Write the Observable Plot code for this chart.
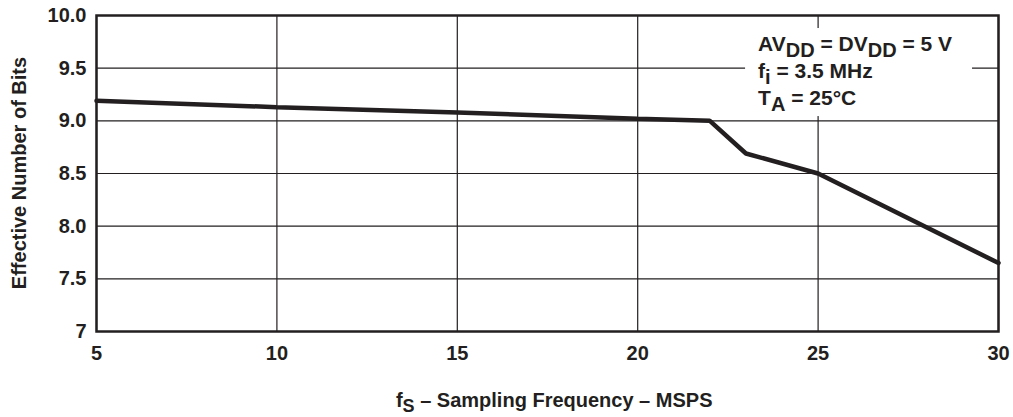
<!DOCTYPE html>
<html>
<head>
<meta charset="utf-8">
<script src="https://cdn.jsdelivr.net/npm/d3@7"></script>
<script src="https://cdn.jsdelivr.net/npm/@observablehq/plot@0.6"></script>
<style>
  html, body { margin: 0; padding: 0; background: #fff; }
  #chart svg { display: block; }
</style>
</head>
<body>
<div id="chart"></div>
<script>
// Data
const samplingFreq = [5, 10, 15, 20, 22, 23, 25, 30];      // fS, MSPS
const enob =         [9.19, 9.13, 9.08, 9.02, 9.0, 8.69, 8.5, 7.65]; // bits
const xTicks = [5, 10, 15, 20, 25, 30];
const yTicks = [7, 7.5, 8, 8.5, 9, 9.5, 10];
const yTickLabels = ["7", "7.5", "8.0", "8.5", "9.0", "9.5", "10.0"];
const yTitle = "Effective Number of Bits";
const annotation = [
  [["AV", false], ["DD", true], [" = DV", false], ["DD", true], [" = 5 V", false]],
  [["f", false], ["i", true], [" = 3.5 MHz", false]],
  [["T", false], ["A", true], [" = 25°C", false]]
];

const ink = "#231f20";
const font = "'Liberation Sans', Arial, Helvetica, sans-serif";
const data = samplingFreq.map((x, i) => ({x, y: enob[i]}));

const chart = Plot.plot({
  width: 1013,
  height: 417,
  marginLeft: 96,
  marginRight: 15,
  marginTop: 15,
  marginBottom: 86,
  style: {fontFamily: font, color: ink, background: "#fff"},
  x: {domain: [5, 30], ticks: xTicks},
  y: {domain: [7, 10], ticks: yTicks},
  marks: [
    Plot.gridX(xTicks, {stroke: ink, strokeOpacity: 1, strokeWidth: 1.2}),
    Plot.gridY(yTicks, {stroke: ink, strokeOpacity: 1, strokeWidth: 1.2}),
    Plot.line(data, {x: "x", y: "y", stroke: ink, strokeWidth: 4.5, strokeLinejoin: "miter"}),
    Plot.frame({stroke: ink, strokeWidth: 2.5}),
    Plot.axisX(xTicks, {tickSize: 0, tickPadding: 14, fontSize: 20, fontWeight: "bold", fill: ink, label: null}),
    Plot.axisY(yTicks, {tickSize: 0, tickPadding: 10, fontSize: 20, fontWeight: "bold", fill: ink, label: null,
      tickFormat: d => yTickLabels[yTicks.indexOf(d)]})
  ]
});

document.getElementById("chart").appendChild(chart);

const sx = chart.scale("x"), sy = chart.scale("y");
const svg = d3.select(chart);

// Y axis title
svg.append("text")
  .attr("transform", `translate(26,${(sy.apply(7) + sy.apply(10)) / 2}) rotate(-90)`)
  .attr("text-anchor", "middle")
  .attr("font-family", font).attr("font-weight", "bold").attr("font-size", 20)
  .attr("fill", ink)
  .text(yTitle);

// X axis title with subscript
const xt = svg.append("text")
  .attr("x", sx.apply(17.7)).attr("y", 407)
  .attr("text-anchor", "middle")
  .attr("font-family", font).attr("font-weight", "bold").attr("font-size", 20)
  .attr("fill", ink);
xt.append("tspan").text("f");
xt.append("tspan").attr("font-size", 18).attr("dy", 5).text("S");
xt.append("tspan").attr("dy", -5).text(" – Sampling Frequency – MSPS");

// Annotation box, placed below the curve layer
const lineNode = chart.querySelector('g[aria-label="line"]');
const g = d3.select(chart.insertBefore(document.createElementNS("http://www.w3.org/2000/svg", "g"), lineNode));
const bg = g.append("rect").attr("fill", "#fff");
const ax = sx.apply(23.35);
const baseY = [9.658, 9.40, 9.145];
annotation.forEach((line, i) => {
  const t = g.append("text")
    .attr("x", ax).attr("y", sy.apply(baseY[i]))
    .attr("text-anchor", "start")
    .attr("font-family", font).attr("font-weight", "bold").attr("font-size", 21)
    .attr("fill", ink);
  let sub = false;
  line.forEach(([s, isSub]) => {
    const sp = t.append("tspan").text(s);
    if (isSub && !sub) { sp.attr("dy", 6).attr("font-size", 20); sub = true; }
    else if (isSub) { sp.attr("font-size", 20); }
    else if (!isSub && sub) { sp.attr("dy", -6); sub = false; }
  });
});
const texts = g.selectAll("text").nodes();
let x0 = Infinity, y0 = Infinity, x1 = -Infinity, y1 = -Infinity;
texts.forEach(n => {
  const b = n.getBBox();
  x0 = Math.min(x0, b.x); y0 = Math.min(y0, b.y);
  x1 = Math.max(x1, b.x + b.width); y1 = Math.max(y1, b.y + b.height);
});
bg.attr("x", x0 - 13).attr("y", y0 - 4).attr("width", x1 - x0 + 33).attr("height", y1 - y0 + 5);
</script>
</body>
</html>
